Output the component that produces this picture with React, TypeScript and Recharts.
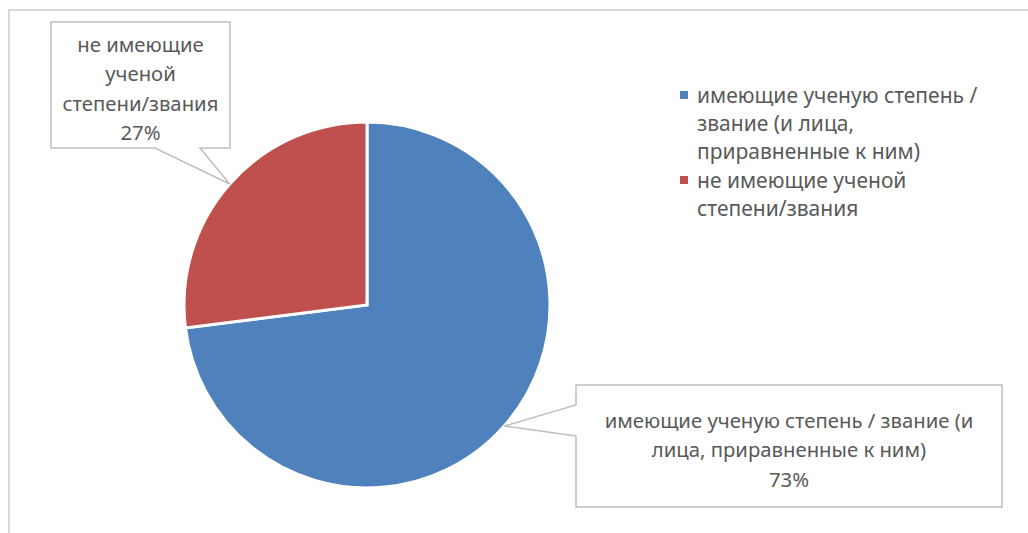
import React from 'react';
import { PieChart, Pie, Cell, Legend } from 'recharts';

const categories: string[] = [
  'имеющие ученую степень / звание (и лица, приравненные к ним)',
  'не имеющие ученой степени/звания',
];
const values: number[] = [73, 27];
const colors: string[] = ['#4F81BD', '#C0504D'];

const data = categories.map((name, i) => ({ name, value: values[i] }));

const FONT = "'Noto Sans', 'Open Sans', sans-serif";
const TEXT = '#595959';
const LABEL_SIZE = 20.3;
const LEGEND_SIZE = 21;

function wrap(text: string, max: number): string[] {
  const words = text.split(' ');
  const lines: string[] = [];
  let cur = '';
  for (const w of words) {
    const next = cur ? cur + ' ' + w : w;
    if (next.length > max && cur) {
      lines.push(cur);
      cur = w;
    } else {
      cur = next;
    }
  }
  if (cur) lines.push(cur);
  return lines;
}

type Callout = { box: [number, number, number, number]; side: 'left' | 'bottom'; base: [number, number]; maxChars: number };
const calloutLayout: Callout[] = [
  { box: [576, 385, 1002, 507], side: 'left', base: [405, 436], maxChars: 34 },
  { box: [51, 22, 230, 148], side: 'bottom', base: [155, 200], maxChars: 14 },
];

const RAD = Math.PI / 180;

const renderLabel = (props: any) => {
  const { cx, cy, midAngle, outerRadius, percent, index, name } = props;
  const lay = calloutLayout[index];
  if (!lay) return null;
  const tx = cx + outerRadius * Math.cos(-midAngle * RAD);
  const ty = cy + outerRadius * Math.sin(-midAngle * RAD);
  const [x0, y0, x1, y1] = lay.box;
  let d: string;
  if (lay.side === 'left') {
    d = `M${x0},${y0} H${x1} V${y1} H${x0} V${lay.base[1]} L${tx},${ty} L${x0},${lay.base[0]} Z`;
  } else {
    d = `M${x0},${y0} H${x1} V${y1} H${lay.base[1]} L${tx},${ty} L${lay.base[0]},${y1} H${x0} Z`;
  }
  const lines = [...wrap(String(name), lay.maxChars), `${Math.round(percent * 100)}%`];
  const lh = 29.5;
  const midX = (x0 + x1) / 2;
  const midY = (y0 + y1) / 2;
  const startY = midY - ((lines.length - 1) * lh) / 2 + 3;
  return (
    <g key={`callout-${index}`}>
      <path d={d} fill="#fff" stroke="#BFBFBF" strokeWidth={1.5} />
      {lines.map((ln, i) => (
        <text
          key={i}
          x={midX}
          y={startY + i * lh}
          textAnchor="middle"
          dominantBaseline="central"
          fill={TEXT}
          fontFamily={FONT}
          fontSize={LABEL_SIZE}
        >
          {ln}
        </text>
      ))}
    </g>
  );
};

const renderLegend = () => (
  <div style={{ fontFamily: FONT, fontSize: LEGEND_SIZE, color: TEXT }}>
    {categories.map((c, i) => (
      <div key={c} style={{ display: 'flex', alignItems: 'flex-start', marginTop: i === 0 ? 0 : 1 }}>
        <div style={{ width: 8, height: 8, background: colors[i], marginTop: 10, marginRight: 9, flex: 'none' }} />
        <div style={{ lineHeight: '28px' }}>
          {wrap(c, 24).map((ln, k) => (
            <div key={k} style={{ whiteSpace: 'nowrap' }}>{ln}</div>
          ))}
        </div>
      </div>
    ))}
  </div>
);

export default function App() {
  return (
    <div style={{ position: 'absolute', left: 0, top: 0, width: 1028, height: 533, overflow: 'hidden', background: '#fff' }}>
      <div
        style={{
          position: 'absolute',
          left: 8,
          top: 9,
          width: 1100,
          height: 700,
          borderTop: '2px solid #D9D9D9',
          borderLeft: '2px solid #D9D9D9',
          boxSizing: 'border-box',
        }}
      />
      <div style={{ position: 'absolute', left: 0, top: 0 }}>
        <PieChart width={1028} height={533} margin={{ top: 0, right: 0, bottom: 0, left: 0 }}>
          <Pie
            data={data}
            dataKey="value"
            nameKey="name"
            cx={367}
            cy={305}
            outerRadius={183}
            startAngle={90}
            endAngle={-270}
            stroke="#fff"
            strokeWidth={3}
            label={renderLabel}
            labelLine={false}
            isAnimationActive={false}
          >
            {data.map((d, i) => (
              <Cell key={d.name} fill={colors[i]} />
            ))}
          </Pie>
          <Legend
            layout="vertical"
            align="right"
            verticalAlign="top"
            content={renderLegend}
            wrapperStyle={{ left: 680, top: 81, width: 330 }}
          />
        </PieChart>
      </div>
    </div>
  );
}
